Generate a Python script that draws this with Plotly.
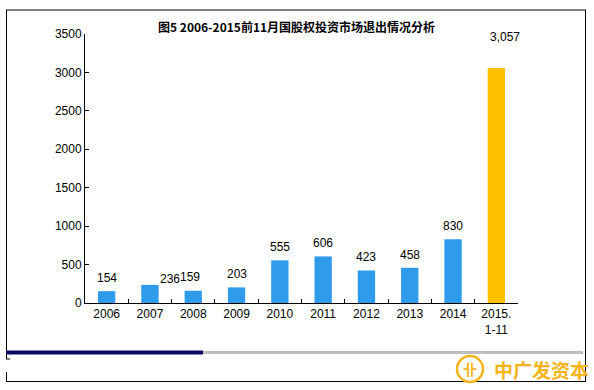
import plotly.graph_objects as go

categories = ["2006", "2007", "2008", "2009", "2010", "2011", "2012", "2013", "2014", "2015.<br>1-11"]
values = [154, 236, 159, 203, 555, 606, 423, 458, 830, 3057]
label_text = ["154", "236", "159", "203", "555", "606", "423", "458", "830", "3,057"]
y_ticks = [0, 500, 1000, 1500, 2000, 2500, 3000, 3500]

W, H = 594, 390
BLUE = "#2F9BEB"
ORANGE = "#FFC000"
LOGO = "#F5B41A"
bar_colors = [BLUE] * 9 + [ORANGE]

def px(x):
    return x / W

def py(y):
    return 1 - y / H

fig = go.Figure()
fig.add_trace(go.Bar(x=categories, y=values, marker=dict(color=bar_colors, line=dict(width=0)),
                     hoverinfo="skip", showlegend=False))

# data labels (x given as category index)
special = {1: (20, -3), 2: (-3, 5), 9: (9, 22)}
for i, (v, t) in enumerate(zip(values, label_text)):
    xs, ys = special.get(i, (0, 4))
    fig.add_annotation(x=i, y=v, text=t, showarrow=False, xref="x", yref="y",
                       xanchor="center", yanchor="bottom", xshift=xs, yshift=ys,
                       font=dict(size=12, color="#000000", family="Liberation Sans, Arial"))

# title
fig.add_annotation(x=px(296), y=py(27), xref="paper", yref="paper", showarrow=False,
                   xanchor="center", yanchor="middle",
                   text="<b>图5 2006-2015前11月国股权投资市场退出情况分析</b>",
                   font=dict(size=12, color="#000000", family="Noto Sans CJK SC"))

shapes = []
line_blk = dict(color="#000000", width=1)
def hline(x0, x1, y):
    shapes.append(dict(type="line", xref="paper", yref="paper", x0=px(x0), x1=px(x1), y0=py(y), y1=py(y), line=line_blk))
def vline(x, y0, y1):
    shapes.append(dict(type="line", xref="paper", yref="paper", x0=px(x), x1=px(x), y0=py(y0), y1=py(y1), line=line_blk))

# outer frame
hline(6, 586, 10)
vline(585.5, 10, 381)
vline(6.5, 10, 359)
hline(6, 10, 359)
vline(6.5, 372, 382)
hline(6, 586, 381.5)
# progress bar
shapes.append(dict(type="rect", xref="paper", yref="paper", x0=px(203), x1=px(583), y0=py(354), y1=py(351),
                   fillcolor="#BFBFBF", line=dict(width=0)))
shapes.append(dict(type="rect", xref="paper", yref="paper", x0=px(6), x1=px(203), y0=py(354.5), y1=py(350.5),
                   fillcolor="#0A0A5E", line=dict(width=0)))
# logo circle
shapes.append(dict(type="circle", xref="paper", yref="paper", x0=px(457), x1=px(483), y0=py(382), y1=py(356),
                   line=dict(color=LOGO, width=2.5), fillcolor="rgba(0,0,0,0)"))
fig.update_layout(shapes=shapes)

fig.add_annotation(x=px(470), y=py(369), xref="paper", yref="paper", showarrow=False,
                   xanchor="center", yanchor="middle",
                   text="<b>卝</b>", font=dict(size=14, color=LOGO, family="Noto Sans CJK SC"))
fig.add_annotation(x=px(541), y=py(369), xref="paper", yref="paper", showarrow=False,
                   xanchor="center", yanchor="middle",
                   text="<b>中广发资本</b>", font=dict(size=19, color=LOGO, family="Noto Sans CJK SC"))

fig.update_layout(
    width=W, height=H,
    margin=dict(l=0, r=0, t=0, b=0, autoexpand=False),
    paper_bgcolor="#FFFFFF", plot_bgcolor="#FFFFFF",
    bargap=0.6,
    font=dict(family="Liberation Sans, Arial", size=12, color="#000000"),
    xaxis=dict(type="category", range=[-0.5, len(categories) - 0.5],
               domain=[px(85), px(518)], showline=True, linecolor="#000000", linewidth=1,
               ticks="inside", ticklen=4, tickcolor="#000000", tickson="boundaries",
               showgrid=False, zeroline=False, tickfont=dict(size=12), tickangle=0, fixedrange=True),
    yaxis=dict(domain=[py(303), py(34)], range=[0, 3500], tickvals=y_ticks,
               showline=True, linecolor="#000000", linewidth=1,
               ticks="inside", ticklen=4, tickcolor="#000000",
               showgrid=False, zeroline=False, tickfont=dict(size=12), fixedrange=True),
)

fig.write_html("out.html", config={"displayModeBar": False},
               post_script="document.body.style.margin='0px';")
